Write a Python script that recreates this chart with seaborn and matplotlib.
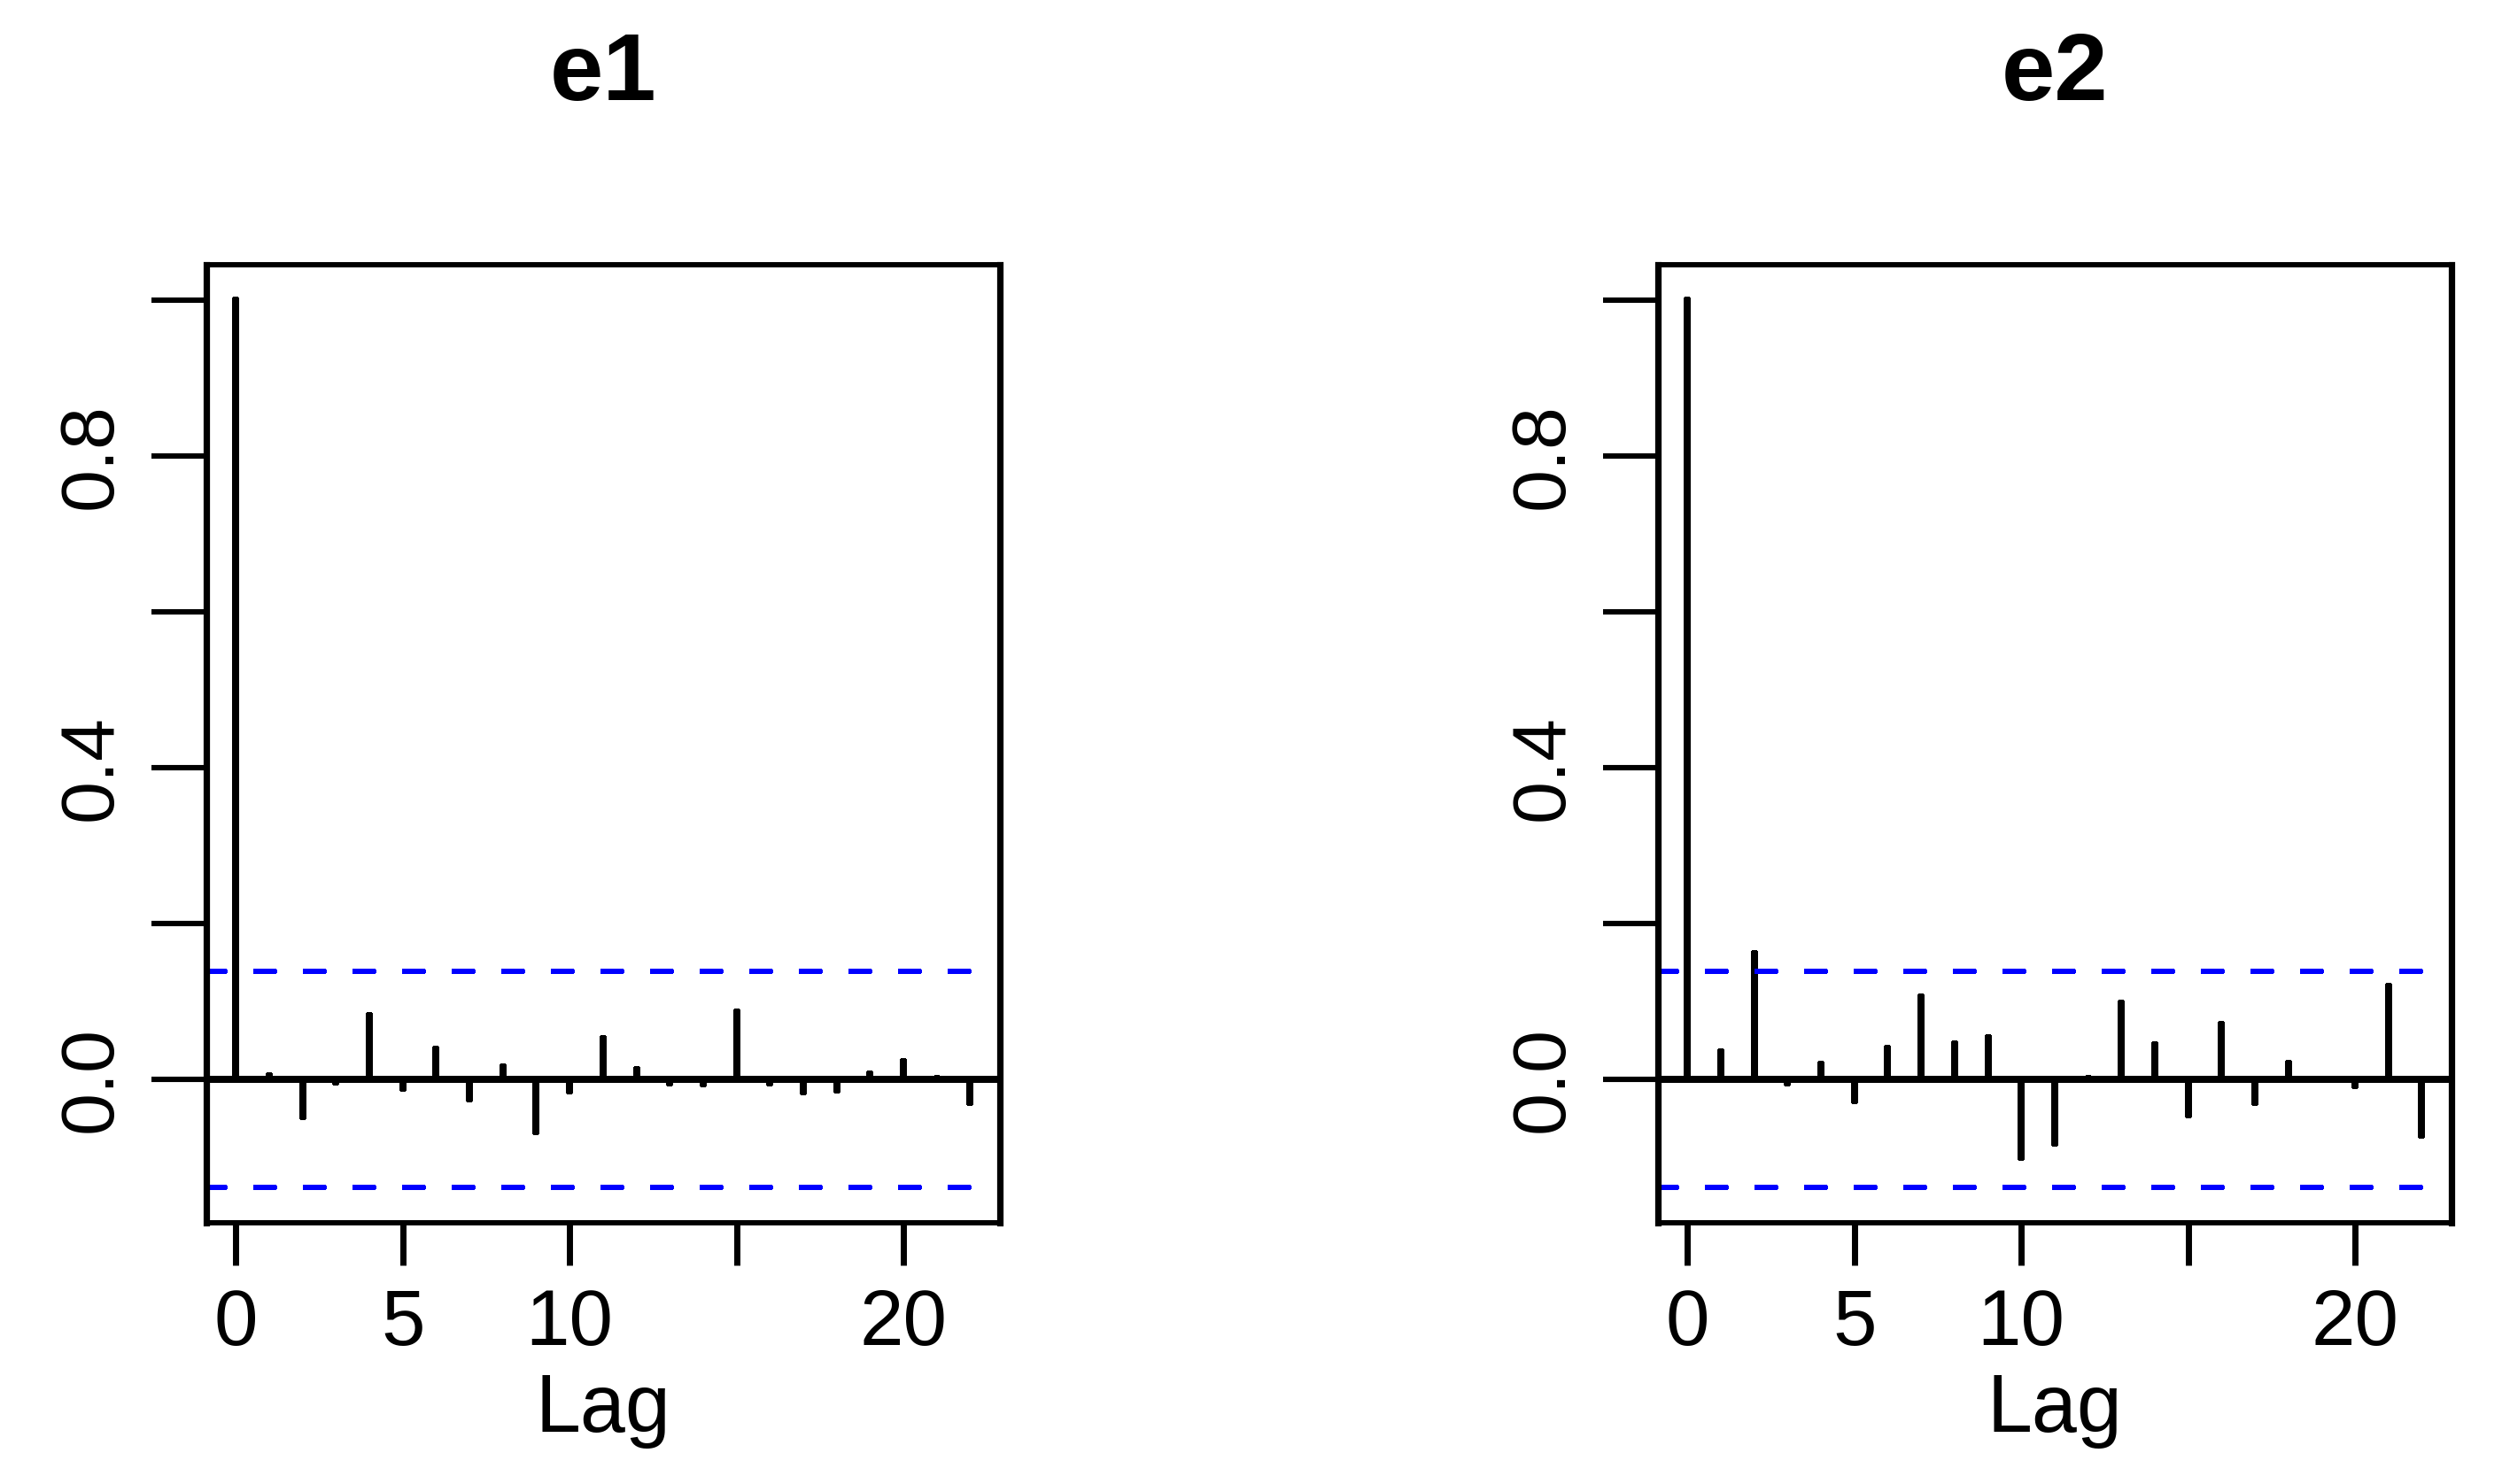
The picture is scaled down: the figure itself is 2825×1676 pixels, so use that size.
import matplotlib
matplotlib.use("Agg")
import pandas as pd
import matplotlib.pyplot as plt
import seaborn as sns

# autocorrelation values (lags 0..22)
lags = list(range(23))
acf_e1 = [1.0, 0.004, -0.048, -0.003, 0.082, -0.011, 0.039, -0.025, 0.016, -0.067,
          -0.015, 0.052, 0.012, -0.004, -0.006, 0.086, -0.005, -0.016, -0.014, 0.007,
          0.023, 0.001, -0.030]
acf_e2 = [1.0, 0.035, 0.161, -0.005, 0.019, -0.027, 0.040, 0.106, 0.045, 0.053,
          -0.100, -0.082, 0.001, 0.098, 0.044, -0.046, 0.071, -0.030, 0.020, 0.0,
          -0.008, 0.119, -0.072]
titles = ["e1", "e2"]
ci_bound = 0.1386

x_ticks = [0, 5, 10, 15, 20]
x_tick_labels = ["0", "5", "10", "", "20"]
y_ticks = [0.0, 0.2, 0.4, 0.6, 0.8, 1.0]
y_tick_labels = ["0.0", "", "0.4", "", "0.8", ""]

sns.set_style("white")
plt.rcParams["font.family"] = ["Liberation Sans", "DejaVu Sans"]
plt.rcParams["lines.solid_capstyle"] = "round"
plt.rcParams["lines.antialiased"] = False
for key in ["text.color", "axes.labelcolor", "xtick.color", "ytick.color"]:
    plt.rcParams[key] = "black"

fig = plt.figure(figsize=(28.25, 16.76), dpi=100)
fig.patch.set_facecolor("white")

lefts = [0.0825, 0.6627]
for left, title, acf in zip(lefts, titles, [acf_e1, acf_e2]):
    ax = fig.add_axes([left, 0.176, 0.3170, 0.6456])
    stems = pd.DataFrame({"lag": lags * 2, "acf": [0.0] * len(lags) + acf})
    sns.lineplot(data=stems, x="lag", y="acf", units="lag", estimator=None,
                 color="black", linewidth=5.5, ax=ax, legend=False)
    ax.axhline(0, color="black", linewidth=4.6, antialiased=False)
    for b in (ci_bound, -ci_bound):
        ax.axhline(b, color="blue", linewidth=4.2, linestyle=(0, (3.5, 6.1)),
                   dash_capstyle="round", antialiased=False)

    ax.set_xlim(-0.88, 22.88)
    ax.set_ylim(-ci_bound - 0.04 * (1 + ci_bound), 1 + 0.04 * (1 + ci_bound))

    ax.set_xticks(x_ticks)
    ax.set_xticklabels(x_tick_labels, fontsize=64)
    ax.set_yticks(y_ticks)
    ax.set_yticklabels(y_tick_labels, fontsize=62, rotation=90, va="center")
    ax.tick_params(axis="x", direction="out", length=34.5, width=5, pad=18,
                   bottom=True, color="black")
    ax.tick_params(axis="y", direction="out", length=44.6, width=4.4, pad=20,
                   left=True, color="black")

    for side in ["left", "right"]:
        ax.spines[side].set_linewidth(5.2)
        ax.spines[side].set_color("black")
    for side in ["top", "bottom"]:
        ax.spines[side].set_linewidth(4.3)
        ax.spines[side].set_color("black")

    ax.set_title(title, fontsize=78, fontweight="bold", pad=134)
    ax.set_xlabel("Lag", fontsize=66, labelpad=9)
    ax.set_ylabel("")

fig.savefig("out.png", dpi=100)
